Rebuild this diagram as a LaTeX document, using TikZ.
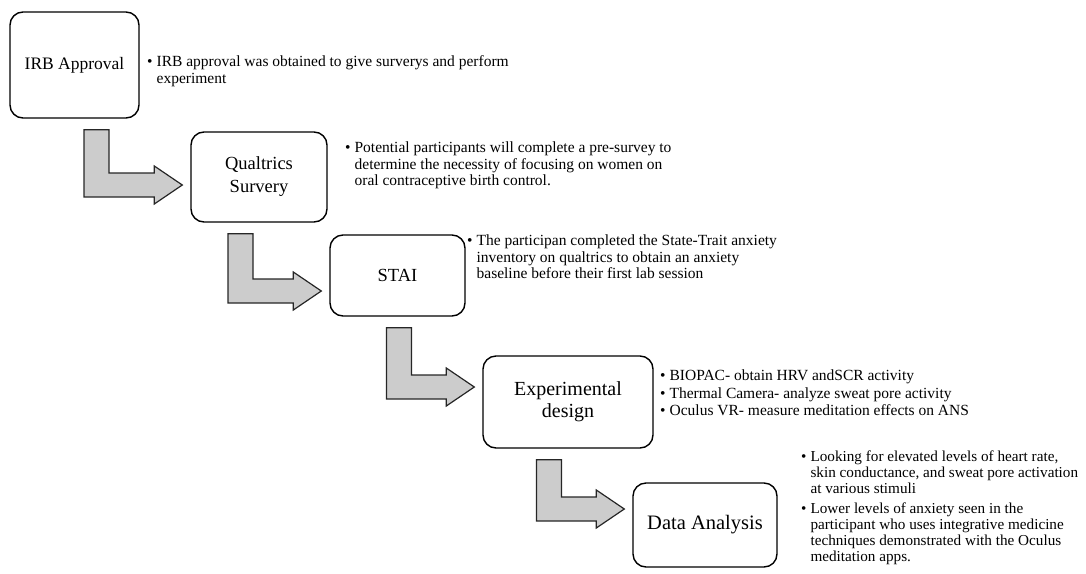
\documentclass[tikz,border=0pt]{standalone}
\usepackage{fontspec}
\setmainfont{Liberation Serif}
\usepackage{tikz}
\usetikzlibrary{calc,positioning}
\definecolor{ElbowGray}{gray}{0.80}

\newcommand{\notelist}[1]{\begin{tabular}{@{}l@{\hspace{4pt}}l@{}}#1\end{tabular}}
\newcommand{\fsz}[2]{\fontsize{#1}{#2}\selectfont}
% L-shaped block arrow from below #1 into the west side of #2
\newcommand{\stepelbow}[4]{%
  \draw[elbowarrow] let \p1=($(#1.south)+(#3,0)$), \p2=($(#2.west)+(0,#4)$) in
    ({\x1-12.5pt},{\y1-11pt}) -- ({\x1+12.5pt},{\y1-11pt}) -- ({\x1+12.5pt},{\y2+12pt})
    -- ({\x2-36pt},{\y2+12pt}) -- ({\x2-36pt},{\y2+19pt}) -- ({\x2-8pt},{\y2})
    -- ({\x2-36pt},{\y2-19pt}) -- ({\x2-36pt},{\y2-12pt}) -- ({\x1-12.5pt},{\y2-12pt}) -- cycle;}

\begin{document}
\begin{tikzpicture}[x=1pt,y=-1pt,
  stagebox/.style={draw=black,line width=1.4pt,rounded corners=13pt,inner sep=0pt,align=center},
  notetext/.style={anchor=west,inner sep=0pt,font=\fsz{15.5}{16.5}},
  elbowarrow/.style={draw=black!85,fill=ElbowGray,line width=1.2pt,line join=miter}]
  \useasboundingbox (0,0) rectangle (1086,573);

  \node[stagebox,font=\fsz{17.5}{22},minimum width=129pt,minimum height=106pt] (irb) at (74.5,65) {IRB Approval};
  \node[stagebox,font=\fsz{18.5}{23},minimum width=136pt,minimum height=90pt] (qual) at (259,177) {Qualtrics\\Survery};
  \node[stagebox,font=\fsz{18.5}{22},minimum width=135pt,minimum height=81pt] (stai) at (397.5,275.5) {STAI};
  \node[stagebox,font=\fsz{20}{22},minimum width=170pt,minimum height=92pt] (expd) at (568,402) {Experimental\\design};
  \node[stagebox,font=\fsz{20.5}{22},minimum width=144pt,minimum height=84pt] (data) at (705,525) {Data Analysis};

  \node[notetext] (irbnote) at (147,71.5) {\notelist{%
    \textbullet & IRB approval was obtained to give surverys and perform\\
    & experiment}};
  \node[notetext] (qualnote) at (345,166) {\notelist{%
    \textbullet & Potential participants will complete a pre-survey to\\
    & determine the necessity of focusing on women on\\
    & oral contraceptive birth control.}};
  \node[notetext] (stainote) at (467,259) {\notelist{%
    \textbullet & The participan completed the State-Trait anxiety\\
    & inventory on qualtrics to obtain an anxiety\\
    & baseline before their first lab session}};
  \node[notetext] (expdnote) at (660,395) {\notelist{%
    \textbullet & BIOPAC- obtain HRV andSCR activity\\[1pt]
    \textbullet & Thermal Camera- analyze sweat pore activity\\[1pt]
    \textbullet & Oculus VR- measure meditation effects on ANS}};
  \node[notetext,font=\fsz{15.2}{16}] (datanote) at (801,508) {\notelist{%
    \textbullet & Looking for elevated levels of heart rate,\\
    & skin conductance, and sweat pore activation\\
    & at various stimuli\\[4pt]
    \textbullet & Lower levels of anxiety seen in the\\
    & participant who uses integrative medicine\\
    & techniques demonstrated with the Oculus\\
    & meditation apps.}};

  \stepelbow{irb}{qual}{22}{8}
  \stepelbow{qual}{stai}{-18.5}{15.5}
  \stepelbow{stai}{expd}{1.5}{-15}
  \stepelbow{expd}{data}{-19}{-16}
\end{tikzpicture}
\end{document}
